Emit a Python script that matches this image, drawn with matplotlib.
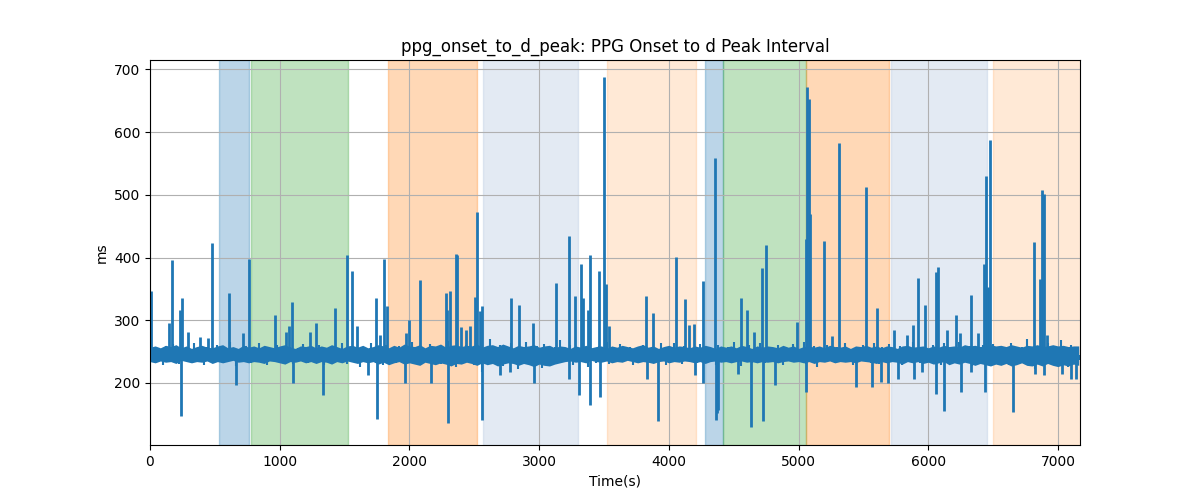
import numpy as np
import matplotlib
matplotlib.use("Agg")
import matplotlib.pyplot as plt

# shaded phases (seconds)
span_start = [532, 776, 1836, 2569, 3526, 4282, 4421, 5054, 5710, 6497]
span_end = [766, 1528, 2523, 3302, 4213, 4421, 5054, 5694, 6451, 7180]
span_color = ["tab:blue", "tab:green", "tab:orange", "lightsteelblue", "tab:orange",
              "tab:blue", "tab:green", "tab:orange", "lightsteelblue", "tab:orange"]
span_alpha = [0.3, 0.3, 0.3, 0.35, 0.17, 0.3, 0.3, 0.3, 0.35, 0.17]

# beat-to-beat fuzz around the baseline, one reading every 20 s
base_step = 20
base_v = [
    238, 256, 232, 250, 244, 228, 259, 241, 235, 262, 247, 230, 253, 239, 258, 233, 246, 264, 236, 249,
    243, 229, 257, 240, 252, 234, 261, 245, 231, 255, 238, 266, 242, 227, 251, 248, 235, 259, 244, 232,
    254, 240, 263, 237, 247, 229, 256, 243, 236, 260, 249, 233, 252, 241, 258, 230, 246, 255, 239, 262,
    245, 231, 257, 248, 234, 261, 240, 228, 253, 244, 237, 259, 250, 235, 264, 242, 230, 256, 247, 238,
    251, 226, 258, 243, 236, 263, 246, 232, 255, 240, 229, 261, 248, 237, 254, 231, 259, 244, 233, 257,
    241, 265, 235, 250, 228, 256, 245, 238, 262, 233, 249, 257, 230, 253, 242, 267, 236, 247, 225, 258,
    244, 234, 260, 239, 251, 229, 263, 246, 218, 255, 240, 270, 232, 249, 237, 261, 227, 252, 243, 264,
    235, 248, 222, 257, 241, 266, 230, 253, 238, 259, 245, 224, 262, 236, 250, 231, 257, 242, 268, 233,
    247, 239, 260, 229, 254, 244, 235, 263, 240, 226, 256, 248, 232, 259, 243, 237, 265, 230, 251, 245,
    238, 262, 233, 249, 241, 257, 228, 253, 246, 234, 261, 239, 250, 231, 258, 244, 236, 263, 242, 229,
    255, 240, 264, 235, 248, 230, 259, 243, 237, 256, 247, 232, 262, 241, 253, 234, 258, 245, 228, 260,
    239, 251, 233, 257, 244, 265, 236, 249, 227, 254, 242, 261, 231, 250, 238, 263, 246, 232, 256, 240,
    248, 235, 260, 243, 229, 257, 245, 237, 262, 234, 252, 240, 266, 230, 247, 239, 259, 226, 255, 244,
    236, 261, 242, 250, 231, 258, 247, 233, 264, 238, 253, 229, 256, 245, 235, 260, 241, 249, 232, 263,
    243, 230, 257, 246, 237, 262, 234, 251, 240, 259, 228, 254, 244, 236, 265, 239, 248, 231, 258, 242,
    250, 235, 261, 238, 255, 229, 263, 244, 233, 257, 247, 240, 266, 232, 252, 237, 259, 227, 256, 245,
    234, 260, 241, 249, 230, 262, 246, 236, 258, 243, 253, 228, 264, 239, 251, 233, 257, 244, 270, 231,
    248, 222, 259, 240, 254, 235, 263, 245, 230, 256, 241, 268, 233, 250, 225, 261, 243, 257, 236, 252,
]

# solid core of the noise band, one reading every 40 s
band_step = 40
band_hi = [
    257, 259, 256, 260, 258, 261, 256, 259, 255, 258, 260, 257, 256, 259, 261, 256, 258, 255, 260, 257,
    259, 256, 260, 258, 256, 259, 261, 257, 255, 259, 258, 260, 256, 259, 257, 261, 258, 255, 259, 260,
    257, 260, 256, 258, 261, 259, 256, 260, 257, 262, 259, 258, 261, 256, 260, 259, 262, 257, 260, 261,
    258, 260, 259, 262, 257, 260, 261, 258, 262, 259, 256, 260, 258, 259, 261, 257, 259, 260, 256, 259,
    258, 255, 259, 257, 260, 256, 258, 259, 255, 259, 257, 260, 258, 256, 259, 261, 257, 259, 255, 258,
    260, 257, 259, 258, 256, 259, 257, 260, 258, 255, 259, 257, 259, 256, 260, 258, 255, 259, 257, 259,
    258, 256, 260, 257, 259, 255, 258, 259, 257, 259, 256, 260, 258, 257, 259, 255, 259, 258, 260, 257,
    259, 256, 259, 258, 255, 259, 260, 257, 258, 259, 256, 259, 257, 260, 258, 259, 257, 261, 259, 260,
    258, 259, 261, 259, 260, 258, 261, 259, 257, 260, 259, 261, 258, 259, 261, 259, 260, 258, 259, 259,
]
band_lo = [
    234, 232, 235, 233, 234, 231, 236, 234, 232, 234, 233, 235, 231, 234, 232, 234, 236, 233, 234, 232,
    234, 233, 231, 235, 234, 232, 230, 234, 233, 235, 232, 234, 231, 234, 233, 230, 234, 232, 235, 233,
    231, 234, 232, 234, 230, 233, 229, 232, 234, 230, 232, 230, 228, 233, 231, 229, 232, 230, 227, 231,
    230, 233, 231, 228, 232, 229, 231, 227, 230, 232, 231, 228, 231, 229, 226, 230, 228, 227, 230, 232,
    234, 235, 233, 234, 232, 236, 234, 233, 235, 232, 234, 233, 236, 234, 232, 234, 233, 231, 234, 235,
    232, 234, 233, 235, 234, 232, 234, 231, 234, 235, 233, 234, 232, 234, 235, 233, 234, 232, 234, 233,
    234, 232, 234, 235, 233, 234, 232, 234, 231, 234, 233, 235, 232, 234, 233, 234, 232, 235, 234, 233,
    231, 234, 232, 234, 233, 230, 234, 232, 234, 231, 233, 230, 232, 234, 229, 232, 230, 233, 231, 228,
    231, 229, 227, 230, 228, 231, 227, 229, 232, 228, 227, 230, 227, 231, 228, 226, 229, 227, 230, 228,
]

# isolated spikes (time s, ms)
spike_t = [5, 150, 172, 231, 236, 244, 293, 388, 445, 478, 609, 661, 715, 761, 967, 1049, 1075, 1093,
           1100, 1231, 1278, 1337, 1424, 1522, 1558, 1594, 1681, 1740, 1748, 1774, 1807, 1825, 1967,
           1974, 1997, 2082, 2167, 2280, 2288, 2301, 2314, 2360, 2365, 2398, 2437, 2470, 2506, 2522,
           2545, 2560, 2563, 2697, 2779, 2784, 2848, 2954, 2958, 3131, 3228, 3232, 3280, 3311, 3321,
           3341, 3380, 3390, 3396, 3463, 3467, 3501, 3514, 3540, 3825, 3829, 3879, 3913, 4059, 4128,
           4154, 4195, 4199, 4265, 4267, 4357, 4365, 4372, 4380, 4530, 4555, 4601, 4630, 4656, 4720,
           4724, 4746, 4818, 4986, 5054, 5059, 5064, 5077, 5088, 5196, 5260, 5309, 5440, 5523, 5564,
           5607, 5638, 5692, 5739, 5764, 5839, 5883, 5888, 5921, 5950, 5973, 6060, 6063, 6078, 6122,
           6143, 6215, 6246, 6251, 6326, 6333, 6387, 6429, 6441, 6444, 6457, 6475, 6655, 6817, 6821,
           6861, 6874, 6889, 6893, 6915, 7031, 7100, 7139]
spike_v = [347, 295, 396, 317, 148, 336, 282, 273, 271, 423, 343, 197, 279, 398, 309, 282, 290, 329,
           200, 282, 296, 181, 319, 404, 378, 290, 213, 336, 143, 277, 398, 323, 200,
           279, 301, 364, 200, 343, 316, 136, 347, 405, 404, 289, 284, 290, 337, 473,
           314, 323, 141, 213, 218, 336, 325, 295, 200, 359, 435, 207, 339, 181, 390,
           335, 316, 164, 404, 378, 178, 688, 357, 291, 339, 207, 312, 139, 401, 334,
           292, 294, 213, 200, 363, 559, 141, 152, 157, 215, 335, 316, 129, 282, 384,
           139, 420, 197, 297, 429, 185, 672, 653, 470, 426, 275, 583, 193, 513, 194,
           320, 202, 200, 284, 207, 276, 292, 206, 368, 218, 325, 377, 182, 385, 155,
           285, 308, 279, 186, 341, 218, 280, 389, 185, 530, 353, 587, 154, 425, 215,
           366, 507, 501, 213, 276, 215, 207, 207]
spike_base = 245

base_t = np.arange(len(base_v)) * base_step
band_t = np.arange(len(band_hi)) * band_step

fig, ax = plt.subplots(figsize=(12, 5), dpi=100)
for s, e, c, a in zip(span_start, span_end, span_color, span_alpha):
    ax.axvspan(s, e, color=c, alpha=a)
ax.fill_between(band_t, band_lo, band_hi, color="tab:blue", linewidth=0, zorder=2)
ax.vlines(base_t, spike_base, base_v, color="tab:blue", linewidth=1.5, zorder=2)
ax.vlines(spike_t, spike_base, spike_v, color="tab:blue", linewidth=2, zorder=2)
ax.set_xlim(0, 7170)
ax.set_ylim(101, 715)
ax.set_title("ppg_onset_to_d_peak: PPG Onset to d Peak Interval")
ax.set_xlabel("Time(s)")
ax.set_ylabel("ms")
ax.grid(True)
fig.savefig("out.png")
